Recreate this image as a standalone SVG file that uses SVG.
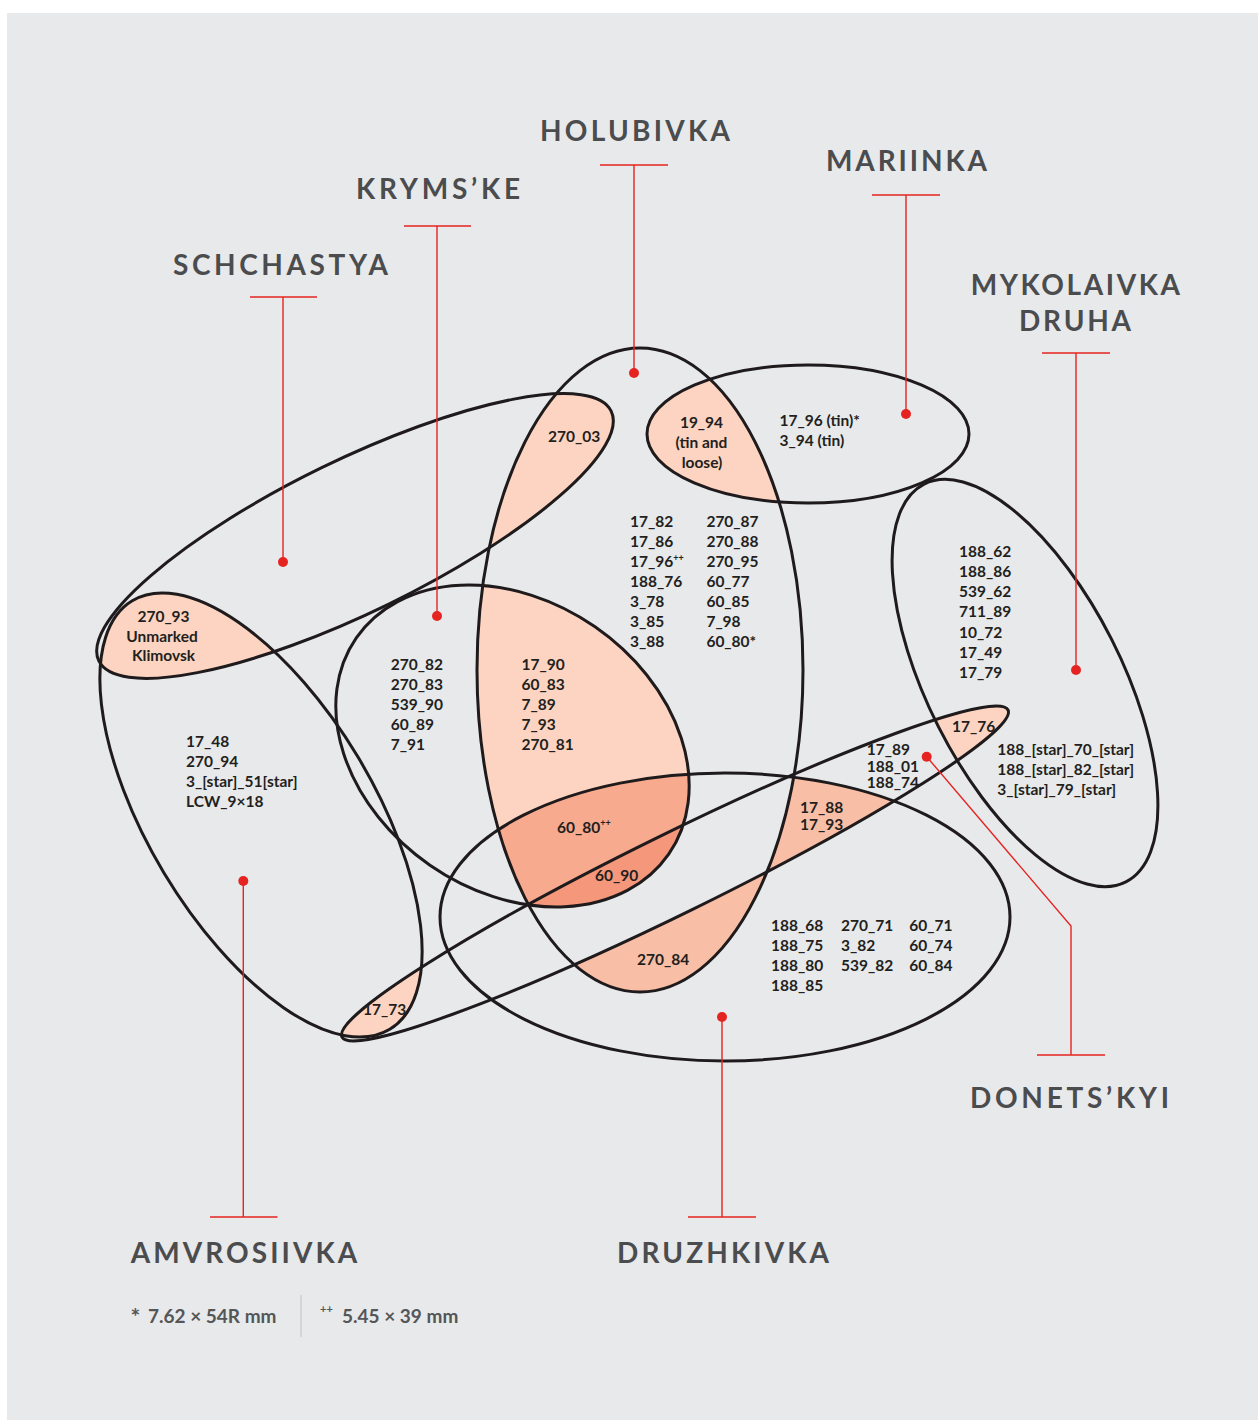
<svg xmlns="http://www.w3.org/2000/svg" xmlns:xlink="http://www.w3.org/1999/xlink" width="1258" height="1420" viewBox="0 0 1258 1420">
<style>
.bg{fill:#e8e9eb}
.f1{fill:#fcd4c1}
.f2{fill:#f9bea6}
.f3{fill:#f8aa8e}
.f4{fill:#f5977a}
.ol{fill:none;stroke:#1f1b1c;stroke-width:3}
.t{font-family:Lato,"Liberation Sans",sans-serif;font-weight:700;font-size:15.5px;fill:#231f20}
.sup{font-size:9px}
.title{font-family:Lato,"Liberation Sans",sans-serif;font-weight:700;font-size:28px;fill:#4b4c4e}
.leg{font-family:Lato,"Liberation Sans",sans-serif;font-weight:700;font-size:19px;fill:#555658}
.legs{font-family:Lato,"Liberation Sans",sans-serif;font-weight:700;font-size:11px;fill:#555658}
.ln{fill:none;stroke:#e52421;stroke-width:1.4}
.dot{fill:#e52421}
</style>
<defs>
<ellipse id="eS" cx="355" cy="536" rx="285" ry="76" transform="rotate(-26 355 536)"/>
<ellipse id="eA" cx="261" cy="815" rx="250" ry="113" transform="rotate(59 261 815)"/>
<ellipse id="eK" cx="512.5" cy="746" rx="190" ry="145" transform="rotate(34.7 512.5 746)"/>
<ellipse id="eH" cx="640" cy="670" rx="163" ry="322"/>
<ellipse id="eM" cx="808" cy="434" rx="161" ry="69"/>
<ellipse id="eMy" cx="1025" cy="683" rx="223" ry="97" transform="rotate(63.1 1025 683)"/>
<ellipse id="eDn" cx="675" cy="873.5" rx="371" ry="40" transform="rotate(-26.15 675 873.5)"/>
<ellipse id="eDz" cx="725" cy="917" rx="285" ry="144"/>
<clipPath id="cS"><use href="#eS"/></clipPath>
<clipPath id="cA"><use href="#eA"/></clipPath>
<clipPath id="cK"><use href="#eK"/></clipPath>
<clipPath id="cH"><use href="#eH"/></clipPath>
<clipPath id="cM"><use href="#eM"/></clipPath>
<clipPath id="cDn"><use href="#eDn"/></clipPath>
<clipPath id="cDz"><use href="#eDz"/></clipPath>
<clipPath id="cRight"><rect x="700" y="0" width="558" height="1420"/></clipPath>
<clipPath id="cBelow"><polygon points="300,1058 1100,665 1100,1300 300,1300"/></clipPath>
<mask id="mNotDn" maskUnits="userSpaceOnUse" x="0" y="0" width="1258" height="1420"><rect width="1258" height="1420" fill="#fff"/><use href="#eDn" fill="#000"/></mask>
<mask id="mNotH" maskUnits="userSpaceOnUse" x="0" y="0" width="1258" height="1420"><rect width="1258" height="1420" fill="#fff"/><use href="#eH" fill="#000"/></mask>
<mask id="mNotK" maskUnits="userSpaceOnUse" x="0" y="0" width="1258" height="1420"><rect width="1258" height="1420" fill="#fff"/><use href="#eK" fill="#000"/></mask>
</defs>

<rect width="1258" height="1420" fill="#ffffff"/>
<rect class="bg" x="7" y="13" width="1251" height="1407"/>

<g id="regions">
<g clip-path="url(#cS)"><use href="#eH" class="f1"/></g>
<g clip-path="url(#cS)"><use href="#eA" class="f1"/></g>
<g clip-path="url(#cM)"><use href="#eH" class="f1"/></g>
<g clip-path="url(#cDn)"><use href="#eMy" class="f1"/></g>
<g clip-path="url(#cA)"><use href="#eDn" class="f1"/></g>
<g clip-path="url(#cH)"><use href="#eK" class="f1"/></g>
<g clip-path="url(#cH)"><g clip-path="url(#cK)"><use href="#eDz" class="f3"/></g></g>
<g clip-path="url(#cH)"><g clip-path="url(#cK)"><g clip-path="url(#cDz)"><use href="#eDn" class="f4"/></g></g></g>
<g clip-path="url(#cDz)"><g mask="url(#mNotH)"><g clip-path="url(#cRight)"><use href="#eDn" class="f2"/></g></g></g>
<g clip-path="url(#cH)"><g mask="url(#mNotDn)"><g mask="url(#mNotK)"><g clip-path="url(#cBelow)"><use href="#eDz" class="f2"/></g></g></g></g>
</g>

<g id="set-schchastya">
<use href="#eS" class="ol"/>
<text class="title" x="173" y="274.5" textLength="215" lengthAdjust="spacing">SCHCHASTYA</text>
</g>
<g id="set-amvrosiivka">
<use href="#eA" class="ol"/>
<text class="title" x="130.7" y="1262.7" textLength="226.5" lengthAdjust="spacing">AMVROSIIVKA</text>
<text class="t" x="186" y="746.7">17_48<tspan x="186" dy="20">270_94</tspan><tspan x="186" dy="20">3_[star]_51[star]</tspan><tspan x="186" dy="20.3">LCW_9×18</tspan></text>
</g>
<g id="set-krymske">
<use href="#eK" class="ol"/>
<text class="title" x="356" y="199" textLength="164" lengthAdjust="spacing">KRYMS’KE</text>
<text class="t" x="390.7" y="669.5">270_82<tspan x="390.7" dy="20">270_83</tspan><tspan x="390.7" dy="20">539_90</tspan><tspan x="390.7" dy="20">60_89</tspan><tspan x="390.7" dy="20">7_91</tspan></text>
</g>
<g id="set-holubivka">
<use href="#eH" class="ol"/>
<text class="title" x="540" y="141" textLength="190" lengthAdjust="spacing">HOLUBIVKA</text>
<text class="t" x="630" y="527">17_82<tspan x="630" dy="20">17_86</tspan><tspan x="630" dy="20">17_96<tspan class="sup" dy="-6">++</tspan></tspan><tspan x="630" dy="26">188_76</tspan><tspan x="630" dy="20">3_78</tspan><tspan x="630" dy="20">3_85</tspan><tspan x="630" dy="20">3_88</tspan></text>
<text class="t" x="706.4" y="527">270_87<tspan x="706.4" dy="20">270_88</tspan><tspan x="706.4" dy="20">270_95</tspan><tspan x="706.4" dy="20">60_77</tspan><tspan x="706.4" dy="20">60_85</tspan><tspan x="706.4" dy="20">7_98</tspan><tspan x="706.4" dy="20">60_80*</tspan></text>
</g>
<g id="set-mariinka">
<use href="#eM" class="ol"/>
<text class="title" x="826" y="171" textLength="161" lengthAdjust="spacing">MARIINKA</text>
<text class="t" x="779.6" y="426">17_96 (tin)*<tspan x="779.6" dy="20">3_94 (tin)</tspan></text>
</g>
<g id="set-mykolaivka-druha">
<use href="#eMy" class="ol"/>
<text class="title" x="970.7" y="294.7" textLength="209.3" lengthAdjust="spacing">MYKOLAIVKA</text>
<text class="title" x="1019" y="330.7" textLength="112" lengthAdjust="spacing">DRUHA</text>
<text class="t" x="959" y="557">188_62<tspan x="959" dy="20">188_86</tspan><tspan x="959" dy="20">539_62</tspan><tspan x="959" dy="20">711_89</tspan><tspan x="959" dy="20.5">10_72</tspan><tspan x="959" dy="20.2">17_49</tspan><tspan x="959" dy="20">17_79</tspan></text>
<text class="t" x="997.3" y="755">188_[star]_70_[star]<tspan x="997.3" dy="20">188_[star]_82_[star]</tspan><tspan x="997.3" dy="20">3_[star]_79_[star]</tspan></text>
</g>
<g id="set-donetskyi">
<use href="#eDn" class="ol"/>
<text class="title" x="970" y="1108" textLength="199" lengthAdjust="spacing">DONETS’KYI</text>
<text class="t" x="866.7" y="755">17_89<tspan x="866.7" dy="16.8">188_01</tspan><tspan x="866.7" dy="16.6">188_74</tspan></text>
</g>
<g id="set-druzhkivka">
<use href="#eDz" class="ol"/>
<text class="title" x="617" y="1262.5" textLength="212" lengthAdjust="spacing">DRUZHKIVKA</text>
<text class="t" x="771" y="931">188_68<tspan x="771" dy="20">188_75</tspan><tspan x="771" dy="20">188_80</tspan><tspan x="771" dy="20">188_85</tspan></text>
<text class="t" x="841" y="931">270_71<tspan x="841" dy="20">3_82</tspan><tspan x="841" dy="20">539_82</tspan></text>
<text class="t" x="909.3" y="931">60_71<tspan x="909.3" dy="20">60_74</tspan><tspan x="909.3" dy="20">60_84</tspan></text>
</g>

<g id="intersections">
<text class="t" x="548" y="442">270_03</text>
<text class="t" x="163.5" y="622" text-anchor="middle">270_93<tspan x="162" dy="19.7">Unmarked</tspan><tspan x="163.5" dy="19.3">Klimovsk</tspan></text>
<text class="t" x="701.5" y="428" text-anchor="middle">19_94<tspan x="701.5" dy="20">(tin and</tspan><tspan x="702" dy="20">loose)</tspan></text>
<text class="t" x="952" y="731.7">17_76</text>
<text class="t" x="363" y="1015">17_73</text>
<text class="t" x="521.5" y="669.5">17_90<tspan x="521.5" dy="20">60_83</tspan><tspan x="521.5" dy="20">7_89</tspan><tspan x="521.5" dy="20">7_93</tspan><tspan x="521.5" dy="20">270_81</tspan></text>
<text class="t" x="557" y="833.3">60_80<tspan class="sup" dy="-7">++</tspan></text>
<text class="t" x="595" y="881">60_90</text>
<text class="t" x="800" y="813.3">17_88<tspan x="800" dy="17">17_93</tspan></text>
<text class="t" x="637" y="965.3">270_84</text>
</g>

<g id="connectors">
<path class="ln" d="M250 297H317M283 297V562"/>
<path class="ln" d="M404 226H471M437 226V616"/>
<path class="ln" d="M600 165H668M634 165V373"/>
<path class="ln" d="M872 195H940M906 195V414"/>
<path class="ln" d="M1042 353H1110M1076 353V670"/>
<path class="ln" d="M926.7 756.7L1071 926V1055M1037 1055H1105"/>
<path class="ln" d="M722 1017V1217M688 1217H756"/>
<path class="ln" d="M243.3 881V1217M210 1217H277.5"/>
<circle class="dot" cx="283" cy="562" r="5"/>
<circle class="dot" cx="437" cy="616" r="5"/>
<circle class="dot" cx="634" cy="373" r="5"/>
<circle class="dot" cx="906" cy="414" r="5"/>
<circle class="dot" cx="1076" cy="670" r="5"/>
<circle class="dot" cx="926.7" cy="756.7" r="5"/>
<circle class="dot" cx="722" cy="1017" r="5"/>
<circle class="dot" cx="243.3" cy="881" r="5"/>
</g>

<g id="legend">
<text class="leg" x="130.5" y="1325" style="font-size:23px">*</text>
<text class="leg" x="148" y="1323">7.62 × 54R mm</text>
<line x1="301" y1="1295" x2="301" y2="1337" stroke="#cfd0d2" stroke-width="1.6"/>
<text class="legs" x="320" y="1313">++</text>
<text class="leg" x="342" y="1323">5.45 × 39 mm</text>
</g>
</svg>
